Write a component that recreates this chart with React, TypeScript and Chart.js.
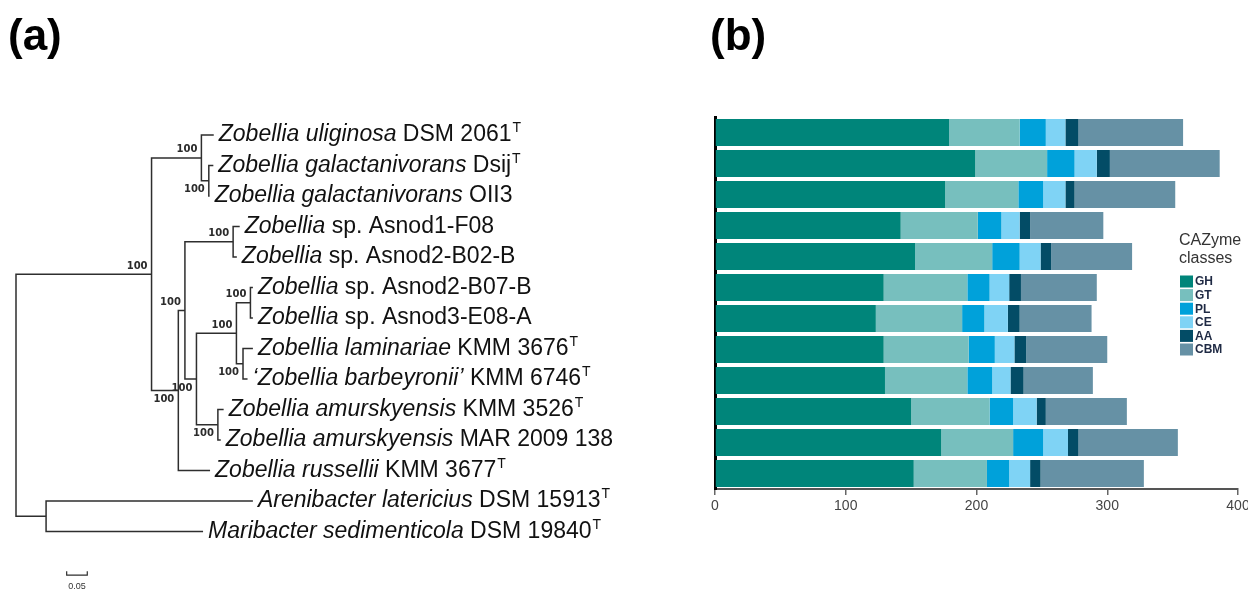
import React, { useEffect, useRef } from 'react';
import { Chart, registerables } from 'chart.js';

Chart.register(...registerables);

const FONT = '"Liberation Sans", Arial, Helvetica, sans-serif';

// ---------- Panel (a): phylogenetic tree ----------
const tipItalic = [
  'Zobellia uliginosa',
  'Zobellia galactanivorans',
  'Zobellia galactanivorans',
  'Zobellia',
  'Zobellia',
  'Zobellia',
  'Zobellia',
  'Zobellia laminariae',
  '\u2018Zobellia barbeyronii\u2019',
  'Zobellia amurskyensis',
  'Zobellia amurskyensis',
  'Zobellia russellii',
  'Arenibacter latericius',
  'Maribacter sedimenticola',
];
const tipPlain = [
  ' DSM 2061',
  ' Dsij',
  ' OII3',
  ' sp. Asnod1-F08',
  ' sp. Asnod2-B02-B',
  ' sp. Asnod2-B07-B',
  ' sp. Asnod3-E08-A',
  ' KMM 3676',
  ' KMM 6746',
  ' KMM 3526',
  ' MAR 2009 138',
  ' KMM 3677',
  ' DSM 15913',
  ' DSM 19840',
];
const tipTypeStrain = [true, true, false, false, false, false, false, true, true, true, false, true, true, true];
const tipParent = ['Top', 'gal', 'gal', 'Asnod', 'Asnod', 'n251', 'n251', 'n243', 'n243', 'amur', 'amur', 'Bot', 'Out', 'Out'];
const tipBranch = [0.030, 0.011, 0.002, 0.016, 0.009, 0.006, 0.006, 0.024, 0.011, 0.014, 0.007, 0.077, 0.502, 0.381];

const nodeIds = ['root', 'Zob', 'Top', 'gal', 'Bot', 'n185', 'Asnod', 'n197', 'n237', 'n251', 'n243', 'amur', 'Out'];
const nodeParent = [null, 'root', 'Zob', 'Top', 'Zob', 'Bot', 'n185', 'n185', 'n197', 'n237', 'n237', 'n197', 'root'];
const nodeBranch = [0, 0.329, 0.121, 0.018, 0.065, 0.016, 0.117, 0.028, 0.097, 0.034, 0.016, 0.052, 0.073];
const nodeSupport = [null, 100, 100, 100, 100, 100, 100, 100, 100, 100, 100, 100, null];
const nodeSupportSide = ['', 'above', 'above', 'below', 'below', 'above', 'above', 'below', 'above', 'above', 'below', 'below', ''];

const scaleBarStart = 0.123;
const scaleBarLength = 0.05;
const scaleBarLabel = '0.05';

// ---------- Panel (b): CAZyme counts ----------
const strains = [
  'Z. uliginosa DSM 2061',
  'Z. galactanivorans Dsij',
  'Z. galactanivorans OII3',
  'Zobellia sp. Asnod1-F08',
  'Zobellia sp. Asnod2-B02-B',
  'Zobellia sp. Asnod2-B07-B',
  'Zobellia sp. Asnod3-E08-A',
  'Z. laminariae KMM 3676',
  'Z. barbeyronii KMM 6746',
  'Z. amurskyensis KMM 3526',
  'Z. amurskyensis MAR 2009 138',
  'Z. russellii KMM 3677',
];
const classNames = ['GH', 'GT', 'PL', 'CE', 'AA', 'CBM'];
const classColors = ['#00857a', '#77bfbe', '#00a1da', '#7fd3f5', '#034c66', '#6691a5'];
const ghValues = [179, 199, 176, 142, 153, 129, 123, 129, 130, 150, 173, 152];
const gtValues = [54, 55, 56, 59, 59, 64, 66, 65, 63, 60, 55, 56];
const plValues = [20, 21, 19, 18, 21, 17, 17, 20, 19, 18, 23, 17];
const ceValues = [15, 17, 17, 14, 16, 15, 18, 15, 14, 18, 19, 16];
const aaValues = [10, 10, 7, 8, 8, 9, 9, 9, 10, 7, 8, 8];
const cbmValues = [80, 84, 77, 56, 62, 58, 55, 62, 53, 62, 76, 79];
const xTicks = [0, 100, 200, 300, 400];

function layoutTree() {
  const depth: Record<string, number> = {};
  const y: Record<string, number> = {};
  nodeIds.forEach((id, i) => {
    const p = nodeParent[i];
    depth[id] = (p ? depth[p] : 0) + nodeBranch[i];
  });
  const tips = tipItalic.map((_, i) => ({ x: depth[tipParent[i]] + tipBranch[i], y: i }));
  const children: Record<string, { x: number; y: number }[]> = {};
  for (let k = nodeIds.length - 1; k >= 0; k--) {
    const id = nodeIds[k];
    const ch: { x: number; y: number }[] = [];
    tips.forEach((t, i) => { if (tipParent[i] === id) ch.push(t); });
    nodeIds.forEach((cid, j) => { if (nodeParent[j] === id) ch.push({ x: depth[cid], y: y[cid] }); });
    ch.sort((a, b) => a.y - b.y);
    children[id] = ch;
    y[id] = (ch[0].y + ch[ch.length - 1].y) / 2;
  }
  return { depth, y, tips, children };
}

function TreePanel() {
  const ref = useRef<HTMLCanvasElement>(null);
  useEffect(() => {
    const tree = layoutTree();
    const lineColor = '#2e2e2e';
    const datasets: any[] = nodeIds.map((id) => {
      const ch = tree.children[id];
      const a = ch[0];
      const b = ch[ch.length - 1];
      const nx = tree.depth[id];
      return {
        data: [{ x: a.x, y: a.y }, { x: nx, y: a.y }, { x: nx, y: b.y }, { x: b.x, y: b.y }],
        showLine: true, borderColor: lineColor, borderWidth: 1.5, pointRadius: 0, tension: 0, fill: false,
      };
    });
    const sbY = 14.43;
    datasets.push({
      data: [
        { x: scaleBarStart, y: sbY - 0.13 }, { x: scaleBarStart, y: sbY },
        { x: scaleBarStart + scaleBarLength, y: sbY }, { x: scaleBarStart + scaleBarLength, y: sbY - 0.13 },
      ],
      showLine: true, borderColor: lineColor, borderWidth: 1.2, pointRadius: 0, tension: 0, fill: false,
    });

    const labelPlugin = {
      id: 'treeLabels',
      afterDraw(chart: any) {
        const ctx = chart.ctx;
        const xs = chart.scales.x;
        const ys = chart.scales.y;
        ctx.save();
        ctx.fillStyle = '#111';
        ctx.textBaseline = 'alphabetic';
        ctx.textAlign = 'left';
        tree.tips.forEach((t, i) => {
          let px = xs.getPixelForValue(t.x) + 5;
          const py = ys.getPixelForValue(t.y) + 6;
          ctx.font = `italic 23px ${FONT}`;
          ctx.fillText(tipItalic[i], px, py);
          px += ctx.measureText(tipItalic[i]).width;
          ctx.font = `23px ${FONT}`;
          ctx.fillText(tipPlain[i], px, py);
          px += ctx.measureText(tipPlain[i]).width;
          if (tipTypeStrain[i]) {
            ctx.font = `14px ${FONT}`;
            ctx.fillText('T', px + 1, py - 9);
          }
        });
        ctx.font = `bold 10px "DejaVu Sans", Verdana, sans-serif`;
        ctx.fillStyle = '#2b2b2b';
        ctx.textAlign = 'right';
        ctx.textBaseline = 'middle';
        nodeIds.forEach((id, i) => {
          const s = nodeSupport[i];
          if (s == null) return;
          const px = xs.getPixelForValue(tree.depth[id]) - 4;
          const py = ys.getPixelForValue(tree.y[id]) + (nodeSupportSide[i] === 'above' ? -8 : 9);
          ctx.fillText(String(s), px, py);
        });
        ctx.font = `9px ${FONT}`;
        ctx.textAlign = 'center';
        ctx.fillStyle = '#333';
        ctx.fillText(scaleBarLabel, xs.getPixelForValue(scaleBarStart + scaleBarLength / 2), ys.getPixelForValue(sbY) + 11);
        ctx.font = `bold 44px ${FONT}`;
        ctx.fillStyle = '#000';
        ctx.textAlign = 'left';
        ctx.textBaseline = 'alphabetic';
        ctx.fillText('(a)', 8, 50);
        ctx.restore();
      },
    };

    const W = 680;
    const chart = new Chart(ref.current as HTMLCanvasElement, {
      type: 'scatter',
      data: { datasets },
      options: {
        responsive: false,
        animation: false,
        layout: { padding: 0 },
        plugins: { legend: { display: false }, tooltip: { enabled: false } },
        scales: {
          x: { type: 'linear', display: false, min: -16 / 412, max: (W - 16) / 412 },
          y: { type: 'linear', display: false, reverse: true, min: -135 / 30.5, max: (592 - 135) / 30.5 },
        },
      } as any,
      plugins: [labelPlugin],
    });
    return () => chart.destroy();
  }, []);
  return <canvas ref={ref} width={680} height={592} style={{ position: 'absolute', left: 0, top: 0 }} />;
}

function BarPanel() {
  const ref = useRef<HTMLCanvasElement>(null);
  useEffect(() => {
    const values = [ghValues, gtValues, plValues, ceValues, aaValues, cbmValues];
    const legendPlugin = {
      id: 'cazLegend',
      afterDraw(chart: any) {
        const ctx = chart.ctx;
        ctx.save();
        ctx.fillStyle = '#333';
        ctx.font = `16px ${FONT}`;
        ctx.textAlign = 'left';
        ctx.textBaseline = 'alphabetic';
        ctx.fillText('CAZyme', 499, 245);
        ctx.fillText('classes', 499, 263);
        ctx.font = `bold 12px ${FONT}`;
        ctx.textBaseline = 'middle';
        classNames.forEach((n, i) => {
          const cy = 281.5 + i * 13.6;
          ctx.fillStyle = classColors[i];
          ctx.fillRect(500, cy - 6, 13, 12);
          ctx.fillStyle = '#1f2a44';
          ctx.fillText(n, 515, cy + 0.5);
        });
        ctx.font = `bold 44px ${FONT}`;
        ctx.fillStyle = '#000';
        ctx.textBaseline = 'alphabetic';
        ctx.fillText('(b)', 30, 50);
        ctx.restore();
      },
    };
    const chart = new Chart(ref.current as HTMLCanvasElement, {
      type: 'bar',
      data: {
        labels: strains,
        datasets: classNames.map((n, i) => ({
          label: n,
          data: values[i],
          backgroundColor: classColors[i],
          borderWidth: 0,
          barPercentage: 0.87,
          categoryPercentage: 1.0,
        })),
      },
      options: {
        indexAxis: 'y',
        responsive: false,
        animation: false,
        layout: { padding: { left: 35, right: 42, top: 117, bottom: 0 } },
        plugins: { legend: { display: false }, tooltip: { enabled: false } },
        scales: {
          x: {
            type: 'linear',
            stacked: true,
            min: xTicks[0],
            max: xTicks[xTicks.length - 1],
            afterBuildTicks: (s: any) => { s.ticks = xTicks.map((v) => ({ value: v })); },
            afterFit: (s: any) => { s.height = 103; },
            ticks: { color: '#444', font: { family: FONT, size: 14 }, padding: 3, maxRotation: 0 },
            grid: { display: true, drawOnChartArea: false, drawTicks: true, tickLength: 6, color: '#666', lineWidth: 1.5 },
            border: { display: true, color: '#555', width: 2 },
          },
          y: {
            type: 'category',
            stacked: true,
            offset: true,
            afterFit: (s: any) => { s.width = 0; },
            ticks: { display: false },
            grid: { display: false, drawTicks: false },
            border: { display: true, color: '#000', width: 3 },
          },
        },
      } as any,
      plugins: [legendPlugin],
    });
    return () => chart.destroy();
  }, []);
  return <canvas ref={ref} width={600} height={592} style={{ position: 'absolute', left: 680, top: 0 }} />;
}

export default function App() {
  return (
    <div style={{ position: 'fixed', left: 0, top: 0, width: 1248, height: 592, overflow: 'hidden', background: '#fff' }}>
      <TreePanel />
      <BarPanel />
    </div>
  );
}
